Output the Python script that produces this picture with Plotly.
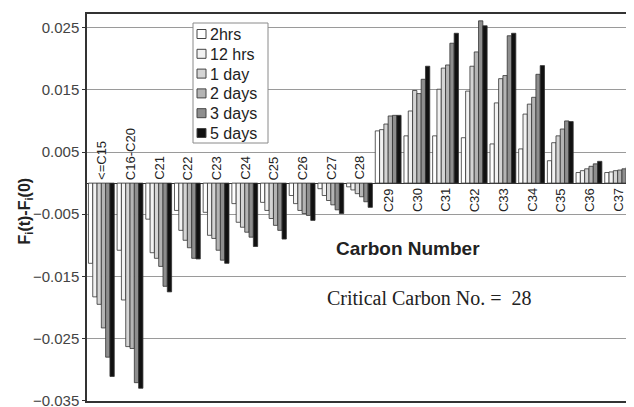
import plotly.graph_objects as go

categories = ["<=C15", "C16-C20", "C21", "C22", "C23", "C24", "C25", "C26", "C27", "C28",
              "C29", "C30", "C31", "C32", "C33", "C34", "C35", "C36", "C37"]

series_names = ["2hrs", "12 hrs", "1 day", "2 days", "3 days", "5 days"]

hrs2 = [-0.0129, -0.0108, -0.0058, -0.0044, -0.0047, -0.0033, -0.0031, -0.0020, -0.0009, -0.0006,
        0.0084, 0.0076, 0.0076, 0.0073, 0.0063, 0.0055, 0.0036, 0.0017, 0.0017]
hrs12 = [-0.0183, -0.0188, -0.0112, -0.0076, -0.0084, -0.0063, -0.0044, -0.0033, -0.0020, -0.0011,
         0.0086, 0.0116, 0.0151, 0.0148, 0.0129, 0.0111, 0.0065, 0.0020, 0.0018]
day1 = [-0.0195, -0.0263, -0.0121, -0.0092, -0.0089, -0.0071, -0.0057, -0.0044, -0.0028, -0.0017,
        0.0095, 0.0149, 0.0185, 0.0188, 0.0168, 0.0127, 0.0076, 0.0023, 0.0020]
day2 = [-0.0233, -0.0266, -0.0134, -0.0104, -0.0108, -0.0079, -0.0068, -0.0049, -0.0035, -0.0022,
        0.0108, 0.0144, 0.0190, 0.0211, 0.0173, 0.0138, 0.0087, 0.0027, 0.0021]
day3 = [-0.0280, -0.0321, -0.0166, -0.0121, -0.0124, -0.0087, -0.0076, -0.0052, -0.0043, -0.0030,
        0.0109, 0.0167, 0.0225, 0.0261, 0.0237, 0.0175, 0.0100, 0.0031, 0.0023]
day5 = [-0.0311, -0.0330, -0.0175, -0.0122, -0.0129, -0.0102, -0.0090, -0.0060, -0.0049, -0.0039,
        0.0109, 0.0188, 0.0241, 0.0253, 0.0241, 0.0189, 0.0099, 0.0035, 0.0026]

y_ticks = [-0.035, -0.025, -0.015, -0.005, 0.005, 0.015, 0.025]

all_series = [hrs2, hrs12, day1, day2, day3, day5]
colors = ["#ffffff", "#f2f2f2", "#d4d4d4", "#b4b4b4", "#8e8e8e", "#111111"]

fig = go.Figure()
for name, vals, col in zip(series_names, all_series, colors):
    fig.add_trace(go.Bar(
        x=categories, y=vals, name=name, showlegend=False,
        marker=dict(color=col, line=dict(color="#333333", width=0.8)),
    ))

annotations = []
for i, cat in enumerate(categories):
    neg = day5[i] < 0
    annotations.append(dict(
        x=cat, y=0, xref="x", yref="y", text=cat, showarrow=False,
        textangle=-90, yanchor="bottom" if neg else "top",
        yshift=1 if neg else -3,
        font=dict(family="Arial, Liberation Sans", size=13, color="#222222"),
    ))

# page-pixel positions (the page body adds an 8px offset)
OFF = 8
W, H = 634 - OFF, 407 - OFF
PL, PT, PR, PB = 87, 14, 632, 401  # plot area in page pixels
L, T = PL - OFF, PT - OFF
R = W - (PR - OFF)
B = H - (PB - OFF)
pw, ph = W - L - R, H - T - B

def px(x):
    return (x - PL) / pw

def py(y):
    return (PB - y) / ph

pixel_annots = [
    dict(x=408, y=248, text="<b>Carbon Number</b>",
         font=dict(family="Arial, Liberation Sans", size=19, color="#222222")),
    dict(x=429, y=311, text="Critical Carbon No. =  28",
         font=dict(family="Liberation Serif, Times New Roman", size=20, color="#222222")),
    dict(x=14, y=211, text="<b>F<sub>i</sub>(t)-F<sub>i</sub>(0)</b>", textangle=-90,
         font=dict(family="Arial, Liberation Sans", size=16, color="#222222")),
]
for a in pixel_annots:
    a.update(x=px(a["x"]), y=py(a["y"]), xref="paper", yref="paper", showarrow=False)
    annotations.append(a)

# custom legend (box, swatches, labels)
shapes = [dict(type="rect", xref="paper", yref="paper",
               x0=px(193), x1=px(268), y0=py(143), y1=py(23),
               line=dict(color="#8a8a8a", width=1), fillcolor="white", layer="above")]
row0, step = 34, 19.8
for k, (name, col) in enumerate(zip(series_names, colors)):
    yc = row0 + k * step
    shapes.append(dict(type="rect", xref="paper", yref="paper",
                       x0=px(197), x1=px(206), y0=py(yc + 4.5), y1=py(yc - 4.5),
                       line=dict(color="#444444", width=1), fillcolor=col, layer="above"))
    annotations.append(dict(x=px(208), y=py(yc + 0.5), xref="paper", yref="paper",
                            text=name, showarrow=False, xanchor="left", yanchor="middle",
                            font=dict(family="Arial, Liberation Sans", size=16, color="#222222")))

fig.update_layout(
    width=W, height=H,
    margin=dict(l=L, r=R, t=T, b=B, autoexpand=False),
    paper_bgcolor="white", plot_bgcolor="white",
    barmode="group", bargap=0.1, bargroupgap=0.0,
    showlegend=False,
    xaxis=dict(
        showticklabels=False, ticks="", showgrid=False, automargin=False,
        range=[-0.5, len(categories) - 0.5],
        showline=True, linecolor="#333333", linewidth=1.5, mirror=True,
    ),
    yaxis=dict(
        range=[-0.03505, 0.0272], tickvals=y_ticks, tickformat=".3f",
        automargin=False,
        showgrid=True, gridcolor="#9a9a9a", gridwidth=1,
        zeroline=True, zerolinecolor="#333333", zerolinewidth=1.2,
        showline=True, linecolor="#333333", linewidth=1.5, mirror=True,
        ticks="outside", ticklen=3, tickcolor="#333333",
        ticklabeloverflow="allow",
        tickfont=dict(family="Arial, Liberation Sans", size=15, color="#444444"),
    ),
    shapes=shapes,
    annotations=annotations,
)

fig.write_html("out.html")
